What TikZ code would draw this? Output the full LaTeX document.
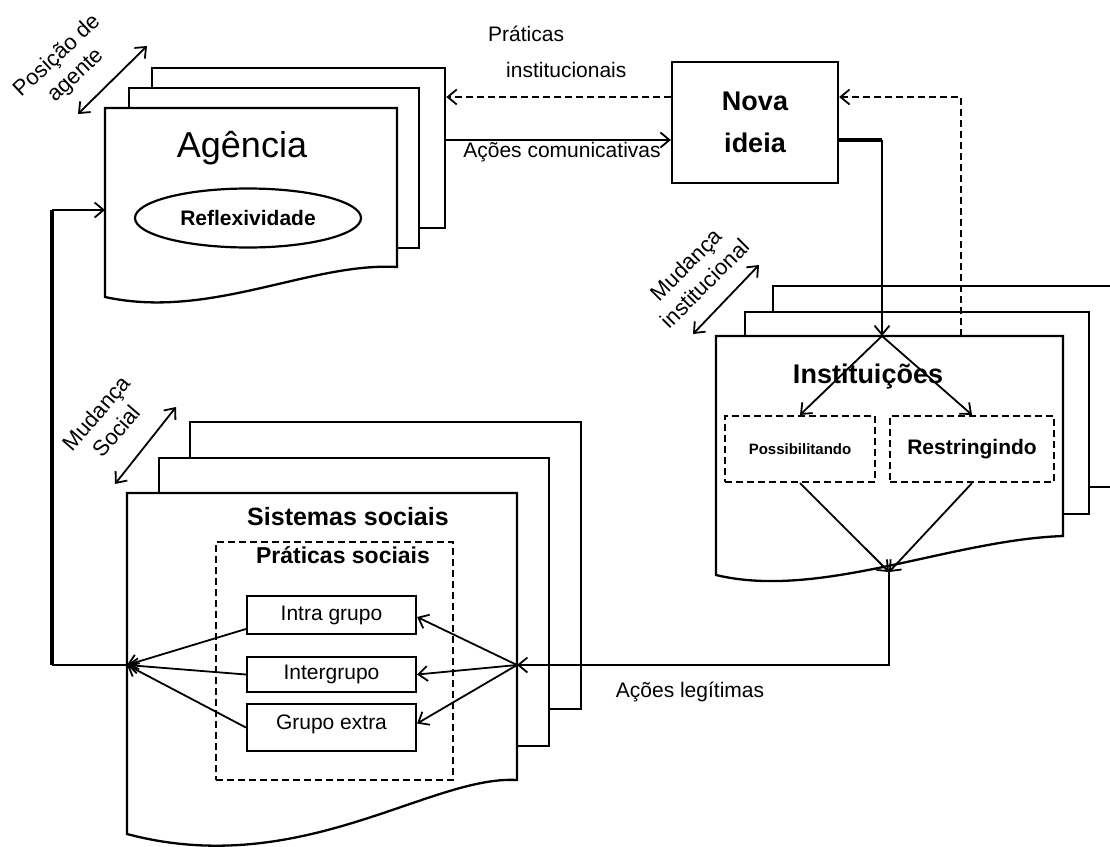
\documentclass[tikz,border=0pt]{standalone}
\usepackage{fontspec}
\setmainfont{Liberation Sans}
\usetikzlibrary{arrows.meta,shapes.geometric}

\newcommand{\fsz}[1]{\fontsize{#1}{#1}\selectfont}

\begin{document}
\begin{tikzpicture}[x=1pt, y=-1pt,
  sheet/.style={draw, fill=white, line width=2.3pt},
  backsheet/.style={sheet, inner sep=0pt, anchor=north west},
  dbox/.style={draw, dash pattern=on 7pt off 4pt, line width=2.2pt, inner sep=0pt},
  gbox/.style={draw, fill=white, line width=2.2pt, minimum width=169pt, inner sep=0pt, font=\fsz{21}},
  lbl/.style={font=\fsz{21}},
  link/.style={-{Straight Barb[length=9pt,width=15pt,line width=1.8pt]}, line width=1.8pt},
  dlink/.style={link, dash pattern=on 7pt off 4pt},
  twoway/.style={{Straight Barb[length=9pt,width=15pt,line width=1.8pt]}-{Straight Barb[length=9pt,width=15pt,line width=1.8pt]}, line width=1.8pt},
]
\useasboundingbox (0,0) rectangle (1110,846);

% --- Agência ---
\node[backsheet, minimum width=293pt, minimum height=160pt] (ag3) at (151,67) {};
\node[backsheet, minimum width=290pt, minimum height=160pt] (ag2) at (128,87) {};
\draw[sheet] (105,108) -- (397,108) -- (397,267) .. controls (310,262) and (210,320) .. (105,297) -- cycle;
\node[anchor=base, font=\fsz{36}] (agencia) at (242,157) {Agência};
\node[ellipse, draw, line width=2.2pt, minimum width=226pt, minimum height=59pt, font=\bfseries\fsz{21}] (reflex) at (248,218) {Reflexividade};
\coordinate (agin) at (105,210);

\coordinate (pa1) at (78,114);
\coordinate (pa2) at (147,46);
\draw[twoway] (pa1) -- (pa2);
\node[rotate=43, align=center, font=\fontsize{22}{27}\selectfont] (posicao) at (67,66) {Posição de\\agente};

% --- Nova ideia ---
\node[draw, line width=2.3pt, minimum width=166pt, minimum height=121pt, align=center,
      font=\bfseries\fontsize{27}{42}\selectfont] (nova) at (755,122.5) {Nova\\ideia};

\draw[dlink] ([yshift=25.5pt]nova.west) -- ([yshift=25.5pt]nova.west -| ag3.east);
\draw[link] ([yshift=-17.5pt]nova.west -| ag3.east) -- ([yshift=-17.5pt]nova.west);
\node[anchor=west, align=left, inner sep=0pt, font=\fontsize{21}{36}\selectfont] (pratinst) at (488,52) {Práticas\\\hspace*{18pt}institucionais};
\node[lbl, anchor=base] (comun) at (562,157) {Ações comunicativas};

% --- Instituições ---
\node[backsheet, minimum width=360pt, minimum height=201pt] (in3) at (772,285) {};
\node[backsheet, minimum width=344pt, minimum height=202pt] (in2) at (744,311) {};
\draw[sheet] (716,336) -- (1063,336) -- (1063,536) .. controls (950,540) and (820,600) .. (716,575) -- cycle;
\node[anchor=base, font=\bfseries\fsz{27}] (inst) at (868,383) {Instituições};
\node[dbox, minimum width=150pt, minimum height=66pt, font=\bfseries\fsz{15}] (poss) at (800,449) {Possibilitando};
\node[dbox, minimum width=164pt, minimum height=66pt, font=\bfseries\fsz{21}] (restr) at (972,449) {Restringindo};
\coordinate (insttop) at (882,336);
\coordinate (instret) at (961,336);
\coordinate (instbot) at (889,572);

\draw[line width=3.5pt] ([yshift=-17.5pt]nova.east) -- ([yshift=-17.5pt]nova.east -| insttop);
\draw[link] ([yshift=-17.5pt]nova.east -| insttop) -- (insttop);
\draw[dlink] (instret) |- ([yshift=25.5pt]nova.east);
\draw[link] (insttop) -- (poss.north);
\draw[link] (insttop) -- (restr.north);
\draw[link] (poss.south) -- (instbot);
\draw[link] (restr.south) -- (instbot);

\coordinate (mi1) at (693,334);
\coordinate (mi2) at (759,265);
\draw[twoway] (mi1) -- (mi2);
\node[rotate=45, align=center, font=\fontsize{22}{27}\selectfont] (mudinst) at (695.5,274) {Mudança\\institucional};

% --- Sistemas sociais ---
\node[backsheet, minimum width=391pt, minimum height=287pt] (ss3) at (189,421) {};
\node[backsheet, minimum width=390pt, minimum height=288pt] (ss2) at (158,457) {};
\draw[sheet] (127,493) -- (517,493) -- (517,780) .. controls (430,775) and (300,880) .. (127,834) -- cycle;
\node[anchor=base, font=\bfseries\fsz{25}] (sist) at (348,525) {Sistemas sociais};
\node[dbox, minimum width=237pt, minimum height=238pt] (pratsoc) at (334.5,661) {};
\node[anchor=base, font=\bfseries\fsz{23}] (pstitle) at (343,563) {Práticas sociais};
\node[gbox, minimum height=38pt] (intra) at (331.5,615) {Intra grupo};
\node[gbox, minimum height=35pt] (inter) at (331.5,674.5) {Intergrupo};
\node[gbox, minimum height=47pt, text depth=10pt] (extra) at (331.5,727.5) {Grupo extra};
\coordinate (hubL) at (127,665);
\coordinate (hubR) at (517,665);

\draw[link] ([yshift=-14pt]intra.west) -- (hubL);
\draw[link] (inter.west) -- (hubL);
\draw[link] (extra.west) -- (hubL);
\draw[link] (hubR) -- ([yshift=-2pt]intra.east);
\draw[link] (hubR) -- (inter.east);
\draw[link] (hubR) -- ([yshift=4pt]extra.east);

\draw[link] (instbot) |- (hubR);
\node[lbl, anchor=base] (legit) at (690,697) {Ações legítimas};

\coordinate (ms1) at (115,484);
\coordinate (ms2) at (176,407);
\draw[twoway] (ms1) -- (ms2);
\node[rotate=49, align=center, font=\fontsize{22}{27}\selectfont] (mudsoc) at (106,422) {Mudança\\Social};

% --- retorno para a agência ---
\coordinate (loopx) at (52,0);
\draw[line width=1.8pt] (hubL) -- (hubL -| loopx);
\draw[line width=4.5pt] (hubL -| loopx) -- (agin -| loopx);
\draw[link] (agin -| loopx) -- (agin);

\end{tikzpicture}
\end{document}
